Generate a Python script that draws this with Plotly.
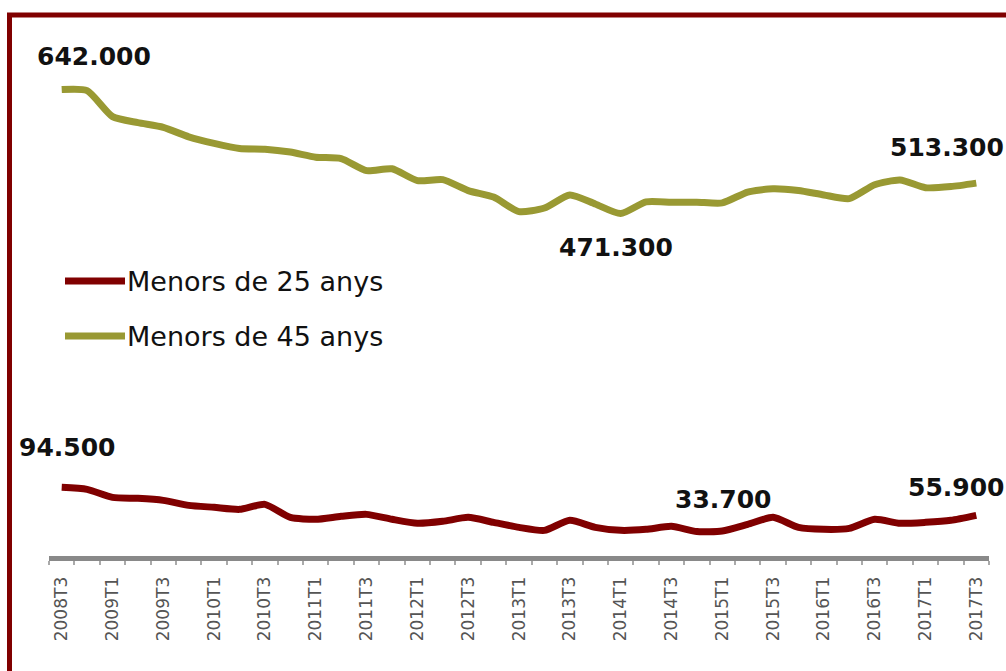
import plotly.graph_objects as go

# ---- data ----
quarters = ["2008T3", "2008T4",
            "2009T1", "2009T2", "2009T3", "2009T4",
            "2010T1", "2010T2", "2010T3", "2010T4",
            "2011T1", "2011T2", "2011T3", "2011T4",
            "2012T1", "2012T2", "2012T3", "2012T4",
            "2013T1", "2013T2", "2013T3", "2013T4",
            "2014T1", "2014T2", "2014T3", "2014T4",
            "2015T1", "2015T2", "2015T3", "2015T4",
            "2016T1", "2016T2", "2016T3", "2016T4",
            "2017T1", "2017T2", "2017T3"]

menors_25 = [94500, 91700, 80700, 79400, 76600, 69700, 67000, 64200, 71100,
             53200, 50500, 54600, 57300, 50500, 45000, 47700, 53200, 46300,
             39400, 35300, 49100, 39400, 35300, 36700, 40800, 33700, 34500,
             43600, 53200, 39400, 36700, 38000, 50500, 45000, 46300, 49100,
             55900]

menors_45 = [642000, 640600, 604800, 596500, 590000, 577000, 568000, 561000,
             560000, 556000, 549000, 547000, 530500, 533000, 516700, 518000,
             503000, 494000, 474000, 479000, 497000, 484500, 471300, 487500,
             487000, 487000, 486000, 501000, 505500, 503000, 497000, 492000,
             511000, 517500, 507000, 508500, 513300]

series_names = ["Menors de 25 anys", "Menors de 45 anys"]
series_colors = ["#800000", "#999933"]

# highlighted values: (series index, quarter, label)
highlights = [(1, "2008T3", "642.000"), (1, "2014T1", "471.300"), (1, "2017T3", "513.300"),
              (0, "2008T3", "94.500"), (0, "2014T4", "33.700"), (0, "2017T3", "55.900")]

# ---- figure geometry (pixels) ----
W, H = 1006, 671
L, R, T, B = 49, 17, 50, 115
pw, ph = W - L - R, H - T - B

def px_to_paper_x(px):
    return (px - L) / pw

def px_to_paper_y(py):
    return (H - B - py) / ph

xs = list(range(len(quarters)))
fig = go.Figure()
for name, col, vals in zip(series_names, series_colors, [menors_25, menors_45]):
    fig.add_trace(go.Scatter(x=xs, y=vals, mode="lines", name=name,
                             line=dict(color=col, width=7, shape="spline", smoothing=0.6),
                             showlegend=False, hoverinfo="x+y"))

# data labels (pixel position, anchor)
label_pos = {
    "642.000": (35, 56, "left"),
    "471.300": (557, 248, "left"),
    "513.300": (1006, 147, "right"),
    "94.500": (17, 447, "left"),
    "33.700": (673, 499, "left"),
    "55.900": (1006, 487, "right"),
}
for si, q, txt in highlights:
    px, py, anc = label_pos[txt]
    fig.add_annotation(x=px_to_paper_x(px), y=px_to_paper_y(py), xref="paper", yref="paper",
                       text="<b>" + txt + "</b>", showarrow=False, xanchor=anc, yanchor="middle",
                       font=dict(family="DejaVu Sans", size=25, color="#111111"))

# manual legend
leg_y = [281, 336]
for name, col, ly in zip(series_names, series_colors, leg_y):
    fig.add_shape(type="line", xref="paper", yref="paper",
                  x0=px_to_paper_x(65), x1=px_to_paper_x(125),
                  y0=px_to_paper_y(ly), y1=px_to_paper_y(ly),
                  line=dict(color=col, width=7))
    fig.add_annotation(x=px_to_paper_x(125), y=px_to_paper_y(ly), xref="paper", yref="paper",
                       text=name, showarrow=False, xanchor="left", yanchor="middle",
                       font=dict(family="DejaVu Sans", size=27, color="#111111"))

# outer frame
fig.add_shape(type="rect", xref="paper", yref="paper",
              x0=px_to_paper_x(9.5), x1=px_to_paper_x(1030),
              y0=px_to_paper_y(700), y1=px_to_paper_y(15),
              line=dict(color="#800000", width=5), layer="below")

fig.update_layout(
    width=W, height=H,
    margin=dict(l=L, r=R, t=T, b=B),
    paper_bgcolor="white", plot_bgcolor="white",
    showlegend=False,
    xaxis=dict(range=[-0.5, len(quarters) - 0.5],
               tickmode="array", tickvals=xs[::2], ticktext=quarters[::2],
               tickangle=-90, ticks="", showgrid=False, zeroline=False,
               showline=True, linecolor="#898989", linewidth=5,
               ticklabelstandoff=9,
               tickfont=dict(family="DejaVu Sans", size=17, color="#555555"),
               minor=dict(tickmode="linear", tick0=-0.5, dtick=1, ticks="outside",
                          ticklen=4, tickcolor="#aaaaaa", tickwidth=2, showgrid=False)),
    yaxis=dict(range=[0, 696500], visible=False, showgrid=False, zeroline=False),
)

fig.write_html("out.html", config={"displayModeBar": False},
               post_script="document.body.style.margin='0';document.body.style.overflow='hidden';")
